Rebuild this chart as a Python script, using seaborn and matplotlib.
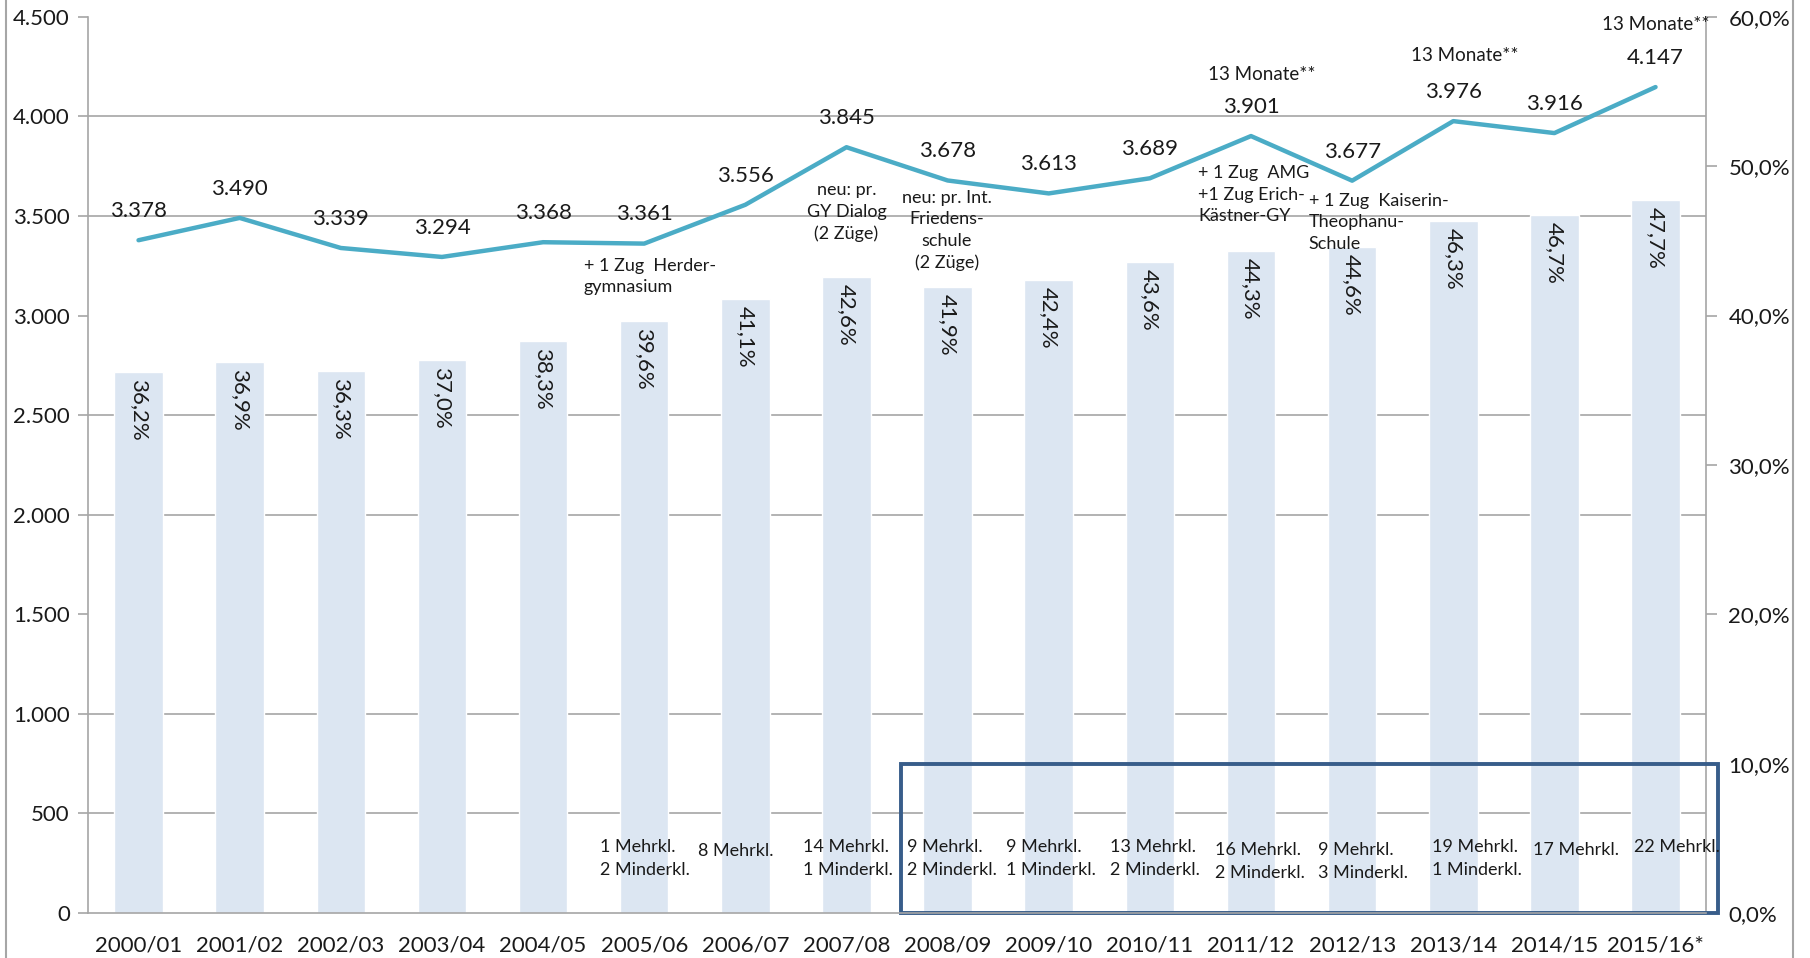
import numpy as np
import matplotlib
matplotlib.use("Agg")
import matplotlib.pyplot as plt
from matplotlib.patches import Rectangle
from matplotlib.lines import Line2D
from matplotlib.ticker import FixedLocator, MultipleLocator, FuncFormatter
import seaborn as sns

# ---------------- data ----------------
categories = ["2000/01", "2001/02", "2002/03", "2003/04", "2004/05", "2005/06",
              "2006/07", "2007/08", "2008/09", "2009/10", "2010/11", "2011/12",
              "2012/13", "2013/14", "2014/15", "2015/16*"]
pupils = [3378, 3490, 3339, 3294, 3368, 3361, 3556, 3845, 3678, 3613, 3689,
          3901, 3677, 3976, 3916, 4147]
share_pct = [36.2, 36.9, 36.3, 37.0, 38.3, 39.6, 41.1, 42.6, 41.9, 42.4, 43.6,
             44.3, 44.6, 46.3, 46.7, 47.7]
share_labels = ["36,2%", "36,9%", "36,3%", "37,0%", "38,3%", "39,6%", "41,1%",
                "42,6%", "41,9%", "42,4%", "43,6%", "44,3%", "44,6%", "46,3%",
                "46,7%", "47,7%"]
months13_idx = [11, 13, 15]
months13_text = "13 Monate**"

class_notes_idx = [5, 6, 7, 8, 9, 10, 11, 12, 13, 14, 15]
class_notes = ["1 Mehrkl.\n2 Minderkl.", "8 Mehrkl.", "14 Mehrkl.\n1 Minderkl.",
               "9 Mehrkl.\n2 Minderkl.", "9 Mehrkl.\n1 Minderkl.",
               "13 Mehrkl.\n2 Minderkl.", "16 Mehrkl.\n2 Minderkl.",
               "9 Mehrkl.\n3 Minderkl.", "19 Mehrkl.\n1 Minderkl.",
               "17 Mehrkl.", "22 Mehrkl."]
class_note_dx = [-0.44, -0.47, -0.43, -0.40, -0.42, -0.39, -0.36, -0.34,
                 -0.21, -0.21, -0.21]
class_note_y = [370, 350, 370, 370, 370, 370, 355, 355, 370, 355, 370]

school_notes = ["+ 1 Zug  Herder-\ngymnasium",
                "neu: pr.\nGY Dialog\n(2 Züge)",
                "neu: pr. Int.\nFriedens-\nschule\n(2 Züge)",
                "+ 1 Zug  AMG\n+1 Zug Erich-\nKästner-GY",
                "+ 1 Zug  Kaiserin-\nTheophanu-\nSchule"]
# (x in category units, y in pupil units, horizontal alignment)
school_note_pos = [(4.40, 3195, "left"), (7.0, 3520, "center"),
                   (7.99, 3427, "center"), (10.48, 3607, "left"),
                   (11.57, 3468, "left")]

# ---------------- style ----------------
sns.set_style("white")
plt.rcParams["font.family"] = ["Lato", "DejaVu Sans"]
TXT = "#1a1a1a"
GRID = "#a6a6a6"
LINE_C = "#4bacc6"
BAR_C = "#dce6f2"
BOX_C = "#385d8a"

fig = plt.figure(figsize=(18.10, 9.58), dpi=100)
ax_line = fig.add_axes([0.0486, 0.047, 0.8940, 0.9355])
ax_bar = ax_line.twinx()
ax_line.set_zorder(ax_bar.get_zorder() + 1)
ax_line.patch.set_visible(False)

n = len(categories)
x = np.arange(n)

# bars (share, right axis)
sns.barplot(x=categories, y=share_pct, ax=ax_bar, color=BAR_C, saturation=1,
            width=0.48, zorder=2)
# line (pupils, left axis)
sns.lineplot(x=x, y=pupils, ax=ax_line, color=LINE_C, linewidth=3.2,
             zorder=3)

ax_line.set_xlim(-0.5, n - 0.5)
ax_line.set_ylim(0, 4500)
ax_bar.set_ylim(0, 60)

# grid lines every 500 pupils, drawn under the bars
ax_bar.yaxis.set_minor_locator(MultipleLocator(60 / 9))
ax_bar.set_axisbelow(True)
ax_bar.grid(which="minor", axis="y", color=GRID, linewidth=1.2, zorder=0)
ax_bar.grid(which="major", visible=False)
ax_bar.tick_params(axis="y", which="minor", length=0)

# left axis
ax_line.yaxis.set_major_locator(MultipleLocator(500))
ax_line.yaxis.set_major_formatter(
    FuncFormatter(lambda v, p: f"{int(v):,}".replace(",", ".")))
ax_line.tick_params(axis="y", which="major", length=7, width=1.2, color=GRID,
                    pad=6, labelsize=16, labelcolor=TXT)
ax_line.set_ylabel("")
# right axis
ax_bar.yaxis.set_major_locator(MultipleLocator(10))
ax_bar.yaxis.set_major_formatter(
    FuncFormatter(lambda v, p: f"{v:.1f}%".replace(".", ",")))
ax_bar.tick_params(axis="y", which="major", length=8, width=1.2, color=GRID,
                   pad=8, labelsize=16, labelcolor=TXT)
ax_bar.set_ylabel("")

# x axis: tick marks between categories, labels at centers
ax_line.xaxis.set_major_locator(FixedLocator(np.arange(-0.5, n, 1)))
ax_line.xaxis.set_major_formatter(FuncFormatter(lambda v, p: ""))
ax_line.xaxis.set_minor_locator(FixedLocator(x))
ax_line.set_xticks(x, labels=categories, minor=True)
ax_line.tick_params(axis="x", which="major", length=8, width=1.2, color=GRID,
                    direction="out")
ax_line.tick_params(axis="x", which="minor", length=0, pad=16, labelsize=16,
                    labelcolor=TXT)
ax_bar.set_xlabel("")
ax_line.set_xlabel("")

for a in (ax_line, ax_bar):
    for s in a.spines.values():
        s.set_color(GRID)
        s.set_linewidth(1.2)
    a.spines["top"].set_visible(False)
ax_line.spines["right"].set_visible(False)
ax_bar.spines["left"].set_visible(False)
ax_bar.spines["bottom"].set_visible(False)

# percentage labels inside bars
for i, (v, lab) in enumerate(zip(share_pct, share_labels)):
    ax_bar.annotate(lab, (i, v), xytext=(0, -5), textcoords="offset points",
                    rotation=270, ha="center", va="top", fontsize=16,
                    color=TXT, zorder=4)

# pupil value labels
for i, v in enumerate(pupils):
    ax_line.annotate(f"{v:,}".replace(",", "."), (i, v), xytext=(0, 21),
                     textcoords="offset points", ha="center", va="center",
                     fontsize=16, color=TXT)

# 13 Monate labels
m_dx = [8, 8, 0]
m_dy = [44, 47, 45]
for k, i in enumerate(months13_idx):
    ax_line.annotate(months13_text, (i, pupils[i]), xytext=(m_dx[k], m_dy[k]),
                     textcoords="offset points", ha="center", va="center",
                     fontsize=13.5, color=TXT, annotation_clip=False)

# school notes
for txt, (px, py, ha) in zip(school_notes, school_note_pos):
    ax_line.text(px, py, txt, ha=ha, va="center", multialignment=ha,
                 fontsize=13, color=TXT, linespacing=1.42, zorder=5)

# class notes at the bottom
for i, txt, dx, cy in zip(class_notes_idx, class_notes, class_note_dx,
                          class_note_y):
    ax_line.text(i + dx, cy, txt, ha="left", va="top", fontsize=13,
                 color=TXT, linespacing=1.5, zorder=5)

# highlight box
ax_bar.add_patch(Rectangle((7.54, 0), 15.62 - 7.54, 10, fill=False,
                           edgecolor=BOX_C, linewidth=2.8, clip_on=False,
                           zorder=6))

# chart frame lines
fig.add_artist(Line2D([0.0035, 0.0035], [0, 1], color=GRID, linewidth=1.5))
fig.add_artist(Line2D([0.9905, 0.9905], [0, 1], color=GRID, linewidth=1.5))

fig.savefig("out.png", dpi=100, facecolor="white")
